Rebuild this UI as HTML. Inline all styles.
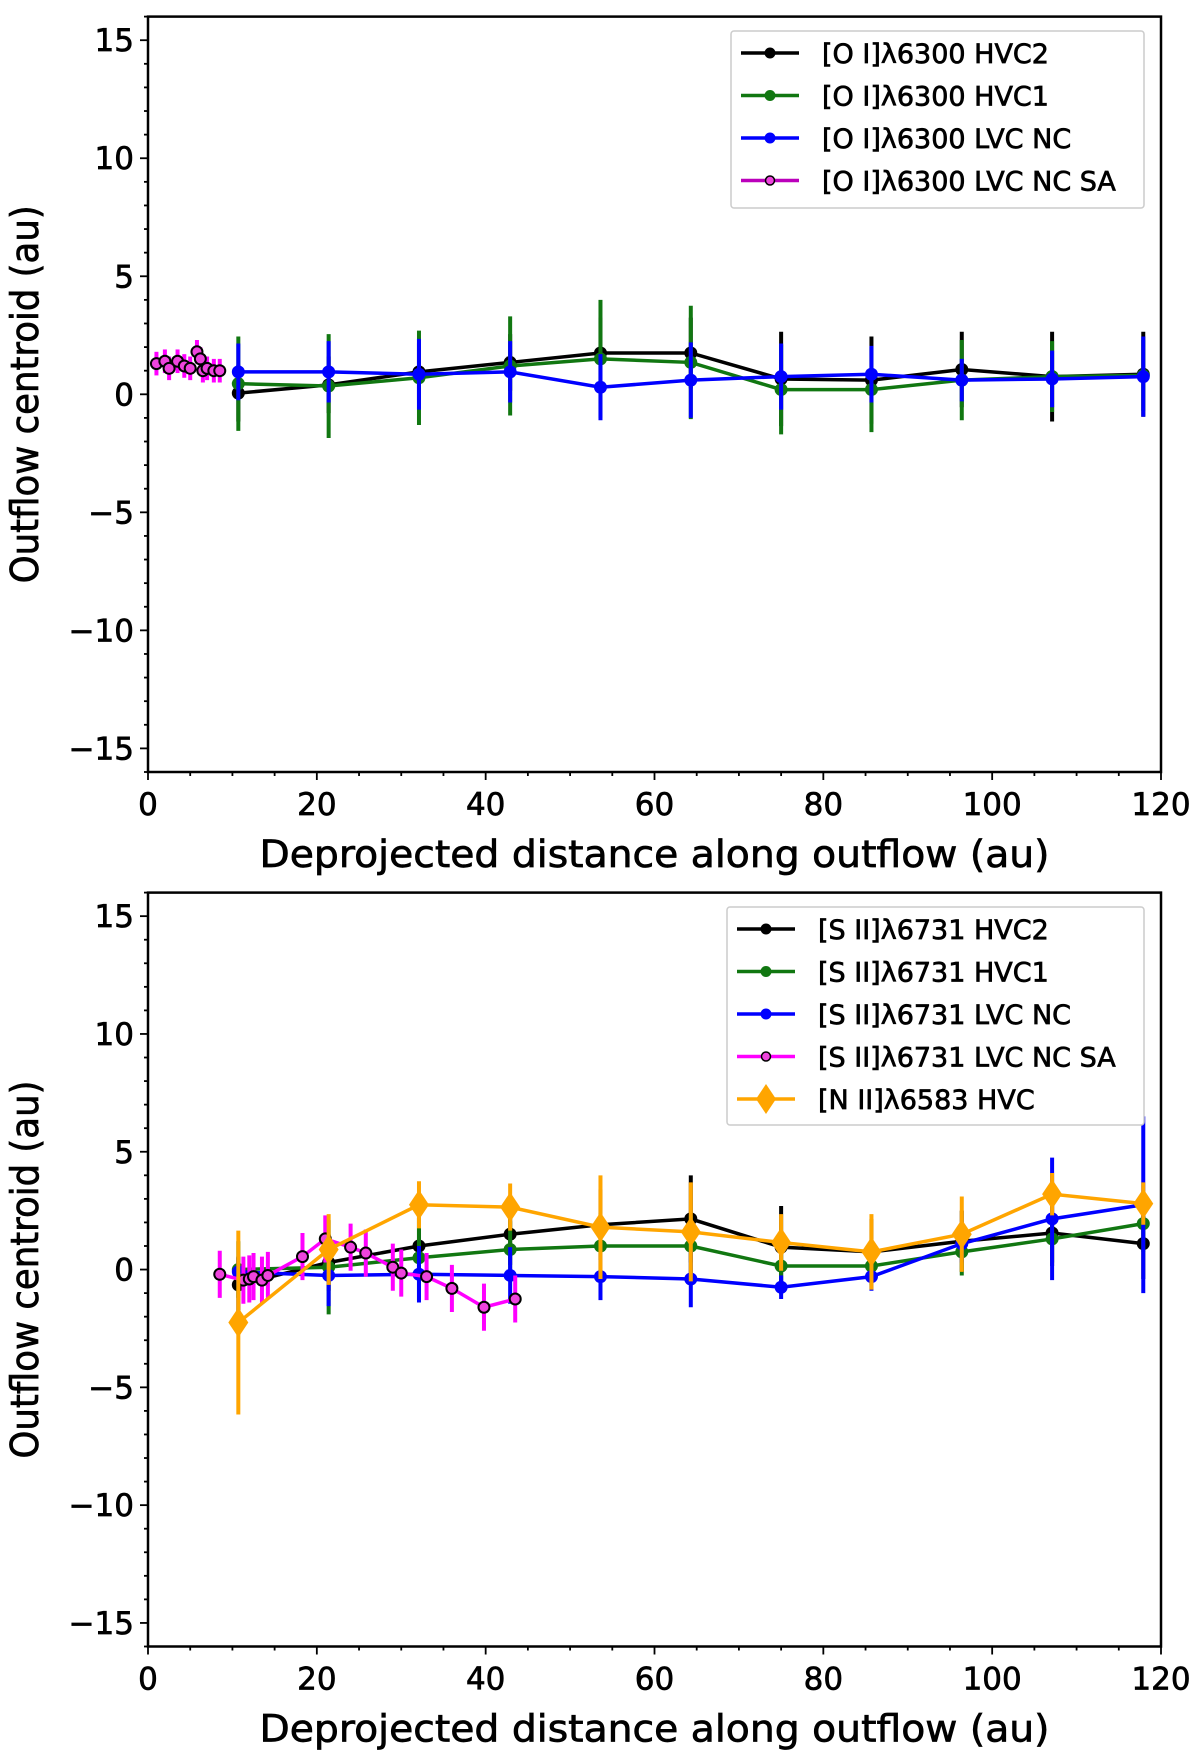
<!DOCTYPE html>
<html><head><meta charset="utf-8"><style>
html,body{margin:0;padding:0;background:#fff;}
svg{display:block;font-family:"DejaVu Sans","Liberation Sans",sans-serif;}
text{stroke:#000;stroke-width:0.7px;}
</style></head><body>
<svg id="chart" width="1200" height="1755" viewBox="0 0 1200 1755" xmlns="http://www.w3.org/2000/svg"></svg>
<script>
// ---- data: top panel ([O I] 6300) ----
const topX = [10.7,21.4,32.1,42.9,53.6,64.3,75,85.7,96.4,107.1,117.9];
const topHVC2 = [0.05,0.4,0.95,1.35,1.75,1.75,0.65,0.6,1.05,0.75,0.85];
const topHVC2Err = [1.2,1.2,1.2,1.2,1.5,1.5,2.0,1.85,1.6,1.9,1.8];
const topHVC1 = [0.45,0.35,0.7,1.2,1.5,1.35,0.2,0.2,0.6,0.75,0.8];
const topHVC1Err = [2.0,2.2,2.0,2.1,2.5,2.4,1.9,1.8,1.7,1.5,1.5];
const topLVC = [0.95,0.95,0.85,0.95,0.3,0.6,0.75,0.85,0.6,0.65,0.75];
const topLVCErr = [1.2,1.3,1.5,1.3,1.4,1.6,1.4,1.2,0.9,1.2,1.7];
const topSAx = [1,2,2.5,3.5,4.3,5,5.8,6.2,6.5,7,7.8,8.5];
const topSAy = [1.3,1.4,1.1,1.4,1.2,1.1,1.8,1.5,1.0,1.1,1.0,1.0];
const topSAErr = [0.5,0.5,0.5,0.5,0.5,0.5,0.5,0.5,0.5,0.5,0.5,0.5];
// ---- data: bottom panel ([S II] 6731, [N II] 6583) ----
const botX = [10.7,21.4,32.1,42.9,53.6,64.3,75,85.7,96.4,107.1,117.9];
const botHVC2 = [-0.65,0.3,1.0,1.5,1.9,2.15,0.95,0.75,1.2,1.55,1.1];
const botHVC2Err = [1.2,1.2,1.2,1.3,1.5,1.85,1.75,1.4,1.3,1.4,1.5];
const botHVC1 = [0.0,0.1,0.5,0.85,1.0,1.0,0.15,0.15,0.75,1.3,1.95];
const botHVC1Err = [1.2,2.0,1.8,1.2,1.4,1.3,1.2,1.0,1.0,1.0,1.2];
const botLVC = [-0.1,-0.25,-0.2,-0.25,-0.3,-0.4,-0.75,-0.3,1.1,2.15,2.75];
const botLVCErr = [0.6,1.3,1.2,1.2,1.0,1.2,0.5,0.6,0.8,2.6,3.75];
const botSAx = [8.5,11.3,12,12.5,13.5,14.2,18.3,21,24,25.8,29,30,33,36,39.8,43.5];
const botSAy = [-0.2,-0.45,-0.4,-0.3,-0.45,-0.25,0.55,1.3,0.95,0.7,0.1,-0.15,-0.3,-0.8,-1.6,-1.25];
const botSAErr = [1.0,1.0,1.0,1.0,1.0,1.0,1.0,1.0,1.0,1.0,1.0,1.0,1.0,1.0,1.0,1.0];
const nIIy = [-2.25,0.85,2.75,2.65,1.8,1.6,1.15,0.75,1.5,3.2,2.8];
const nIIErr = [3.9,1.5,1.0,1.0,2.2,2.1,1.2,1.6,1.6,0.9,0.9];
const xTicks = [0,20,40,60,80,100,120];
const yTicks = [15,10,5,0,-5,-10,-15];
const yTickLabels = ["15","10","5","0","\u22125","\u221210","\u221215"];
const topLegend = ["[O I]\u03bb6300 HVC2","[O I]\u03bb6300 HVC1","[O I]\u03bb6300 LVC NC","[O I]\u03bb6300 LVC NC SA"];
const botLegend = ["[S II]\u03bb6731 HVC2","[S II]\u03bb6731 HVC1","[S II]\u03bb6731 LVC NC","[S II]\u03bb6731 LVC NC SA","[N II]\u03bb6583 HVC"];

const NS="http://www.w3.org/2000/svg";
const svg=document.getElementById('chart');
function mk(tag,attrs,parent,name,inter){
  const e=document.createElementNS(NS,tag);
  for(const k in attrs) e.setAttribute(k,attrs[k]);
  
  
  (parent||svg).appendChild(e);return e;
}
function panel(pname,top,bottom,series,legend,legBox){
  const L=148,R=1161;
  const g=mk('g',{},svg,pname,false);
  const sx=v=>L+(v/120)*(R-L);
  const sy=v=>top+(16-v)/32*(bottom-top);
  const clip='clip-'+pname;
  const defs=mk('defs',{},g,'clip-defs',false);
  const cp=mk('clipPath',{id:clip},defs,'clip-path',false);
  mk('rect',{x:L,y:top,width:R-L,height:bottom-top},cp,'clip-rect',false);
  const plot=mk('g',{'clip-path':'url(#'+clip+')'},g,'plot-area',false);
  series.forEach(s=>{
    const sg=mk('g',{},plot,'series-'+s.id,false);
    s.x.forEach((x,i)=>{
      mk('line',{x1:sx(x),x2:sx(x),y1:sy(s.y[i]-s.e[i]),y2:sy(s.y[i]+s.e[i]),stroke:s.ecolor||s.color,'stroke-width':4},sg,'error-bar',false);
    });
    if(s.line!==false){
      mk('polyline',{points:s.x.map((x,i)=>sx(x)+','+sy(s.y[i])).join(' '),fill:'none',stroke:s.color,'stroke-width':3.5},sg,'series-line',false);
    }
    s.x.forEach((x,i)=>{
      const cx=sx(x),cy=sy(s.y[i]);
      if(s.marker==='diamond'){
        mk('polygon',{points:`${cx},${cy-15} ${cx+10},${cy} ${cx},${cy+15} ${cx-10},${cy}`,fill:s.color},sg,'point',false);
      }else if(s.marker==='open'){
        mk('circle',{cx:cx,cy:cy,r:5.5,fill:'#ee44dd',stroke:'#000','stroke-width':2},sg,'point',false);
      }else{
        mk('circle',{cx:cx,cy:cy,r:6.5,fill:s.color},sg,'point',false);
      }
    });
  });
  mk('rect',{x:L,y:top,width:R-L,height:bottom-top,fill:'none',stroke:'#000','stroke-width':2.5},g,'axes-frame',false);
  for(let v=-16;v<=16;v++){
    const major=v%5===0;
    mk('line',{x1:L,x2:L-(major?8:4),y1:sy(v),y2:sy(v),stroke:'#000','stroke-width':1.8},g,'y-tick',false);
  }
  yTicks.forEach((v,i)=>{
    const t=mk('text',{x:L-14,y:sy(v)+11,'text-anchor':'end','font-size':31},g,'y-tick-label',false);
    t.textContent=yTickLabels[i];
  });
  for(let v=0;v<=120;v+=5){
    const major=v%20===0;
    mk('line',{x1:sx(v),x2:sx(v),y1:bottom,y2:bottom+(major?8:4),stroke:'#000','stroke-width':1.8},g,'x-tick',false);
  }
  xTicks.forEach(v=>{
    const t=mk('text',{x:sx(v),y:bottom+43,'text-anchor':'middle','font-size':31},g,'x-tick-label',false);
    t.textContent=String(v);
  });
  const xl=mk('text',{x:(L+R)/2,y:bottom+95,'text-anchor':'middle','font-size':37,textLength:790,lengthAdjust:'spacingAndGlyphs'},g,'x-axis-title',false);
  xl.textContent='Deprojected distance along outflow (au)';
  const ym=(top+bottom)/2;
  const yl=mk('text',{x:0,y:0,'text-anchor':'middle','font-size':38,textLength:378,lengthAdjust:'spacingAndGlyphs',transform:`translate(38,${ym}) rotate(-90)`},g,'y-axis-title',false);
  yl.textContent='Outflow centroid (au)';
  const lg=mk('g',{},g,'legend',false);
  mk('rect',{x:legBox.x,y:legBox.y,width:legBox.w,height:legBox.h,fill:'#fff',stroke:'#ccc','stroke-width':1.5,rx:3},lg,'legend-box',false);
  legend.forEach((lab,i)=>{
    const s=series[i];
    const ey=legBox.y+22+i*42.5;
    const eg=mk('g',{},lg,'legend-entry',false);
    mk('line',{x1:legBox.x+10,x2:legBox.x+68,y1:ey,y2:ey,stroke:s.color,'stroke-width':3.5},eg,'legend-line',false);
    const cx=legBox.x+39;
    if(s.marker==='diamond') mk('polygon',{points:`${cx},${ey-15} ${cx+10},${ey} ${cx},${ey+15} ${cx-10},${ey}`,fill:s.color},eg,'legend-marker',false);
    else if(s.marker==='open') mk('circle',{cx:cx,cy:ey,r:4.5,fill:'#ee44dd',stroke:'#000','stroke-width':1.5},eg,'legend-marker',false);
    else mk('circle',{cx:cx,cy:ey,r:5.5,fill:s.color},eg,'legend-marker',false);
    const t=mk('text',{x:legBox.x+91,y:ey+10,'font-size':27},eg,'legend-label',false);
    t.textContent=lab;
  });
}
panel('top-panel',16.6,772,[
  {id:'hvc2',x:topX,y:topHVC2,e:topHVC2Err,color:'#000'},
  {id:'hvc1',x:topX,y:topHVC1,e:topHVC1Err,color:'#117711'},
  {id:'lvc-nc',x:topX,y:topLVC,e:topLVCErr,color:'#0000ff'},
  {id:'lvc-nc-sa',x:topSAx,y:topSAy,e:topSAErr,color:'#bb00bb',ecolor:'#ff00ff',marker:'open',line:false}
],topLegend,{x:731,y:31,w:413,h:177});
panel('bottom-panel',892.6,1646.5,[
  {id:'hvc2',x:botX,y:botHVC2,e:botHVC2Err,color:'#000'},
  {id:'hvc1',x:botX,y:botHVC1,e:botHVC1Err,color:'#117711'},
  {id:'lvc-nc',x:botX,y:botLVC,e:botLVCErr,color:'#0000ff'},
  {id:'lvc-nc-sa',x:botSAx,y:botSAy,e:botSAErr,color:'#ff00ff',marker:'open'},
  {id:'nii-hvc',x:botX,y:nIIy,e:nIIErr,color:'#ffa500',marker:'diamond'}
],botLegend,{x:727,y:907,w:417,h:218});
</script>
</body></html>
